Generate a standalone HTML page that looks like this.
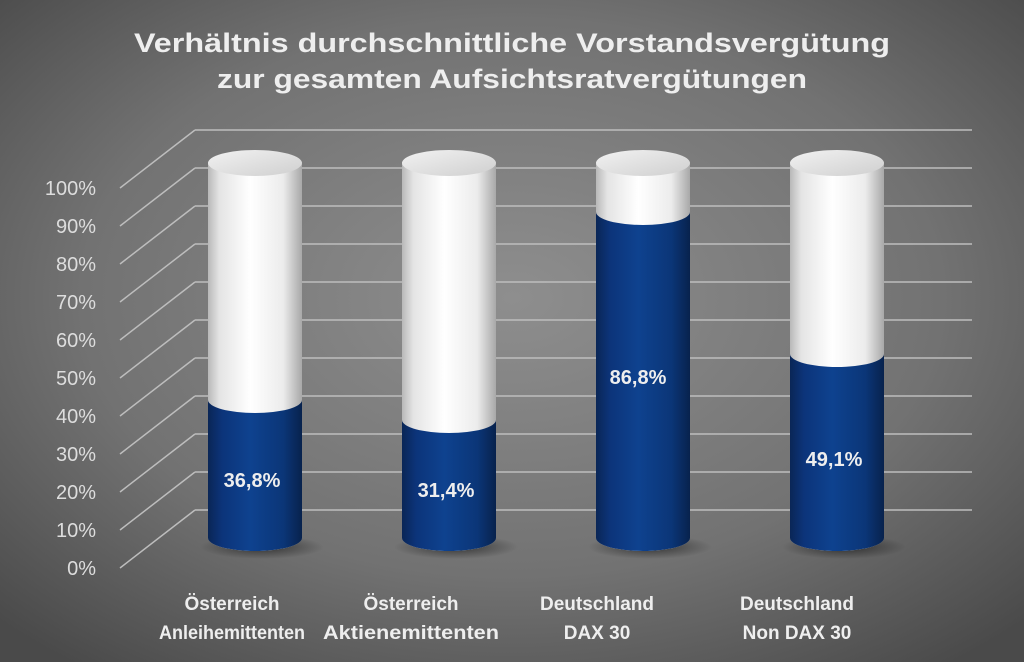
<!DOCTYPE html>
<html><head><meta charset="utf-8"><style>
html,body{margin:0;padding:0;width:1024px;height:662px;overflow:hidden}
svg{display:block}
</style></head><body>
<svg width="1024" height="662" viewBox="0 0 1024 662" xmlns="http://www.w3.org/2000/svg" font-family="'Liberation Sans', sans-serif">
<defs>
<radialGradient id="bg" cx="50%" cy="45%" r="70%">
<stop offset="0" stop-color="#8e8e8e"/><stop offset="0.6" stop-color="#727272"/><stop offset="1" stop-color="#4a4a4a"/>
</radialGradient>
<linearGradient id="wh" x1="0" x2="1" y1="0" y2="0">
<stop offset="0" stop-color="#b8b8b8"/><stop offset="0.12" stop-color="#e4e4e4"/><stop offset="0.45" stop-color="#ffffff"/><stop offset="0.8" stop-color="#ececec"/><stop offset="1" stop-color="#a8a8a8"/>
</linearGradient>
<linearGradient id="bl" x1="0" x2="1" y1="0" y2="0">
<stop offset="0" stop-color="#0a2656"/><stop offset="0.15" stop-color="#0c347a"/><stop offset="0.45" stop-color="#0e428f"/><stop offset="0.8" stop-color="#0b3678"/><stop offset="1" stop-color="#08224d"/>
</linearGradient>
<linearGradient id="tp" x1="0" x2="1" y1="0" y2="1">
<stop offset="0" stop-color="#f2f2f2"/><stop offset="1" stop-color="#cfcfcf"/>
</linearGradient>
<radialGradient id="sh"><stop offset="0" stop-color="#000" stop-opacity="0.55"/><stop offset="1" stop-color="#000" stop-opacity="0"/></radialGradient>
</defs>
<rect width="1024" height="662" fill="url(#bg)"/>
<g fill="#eeeeee" font-weight="bold" font-size="27" text-anchor="middle">
<text x="512" y="52" textLength="756" lengthAdjust="spacingAndGlyphs">Verhältnis durchschnittliche Vorstandsvergütung</text>
<text x="512" y="88" textLength="590" lengthAdjust="spacingAndGlyphs">zur gesamten Aufsichtsratvergütungen</text>
</g>
<g stroke="#bdbdbd" stroke-width="1.5" fill="none">
<path d="M195 130H972M195 130L120 188"/>
<path d="M195 168H972M195 168L120 226"/>
<path d="M195 206H972M195 206L120 264"/>
<path d="M195 244H972M195 244L120 302"/>
<path d="M195 282H972M195 282L120 340"/>
<path d="M195 320H972M195 320L120 378"/>
<path d="M195 358H972M195 358L120 416"/>
<path d="M195 396H972M195 396L120 454"/>
<path d="M195 434H972M195 434L120 492"/>
<path d="M195 472H972M195 472L120 530"/>
<path d="M195 510H972M195 510L120 568"/>
</g>
<g fill="#dddddd" font-size="20" text-anchor="end">
<text x="96" y="195">100%</text><text x="96" y="233">90%</text><text x="96" y="271">80%</text>
<text x="96" y="309">70%</text><text x="96" y="347">60%</text><text x="96" y="385">50%</text>
<text x="96" y="423">40%</text><text x="96" y="461">30%</text><text x="96" y="499">20%</text>
<text x="96" y="537">10%</text><text x="96" y="575">0%</text>
</g>
<!-- bars: cx, boundary -->
<g>
<ellipse cx="262" cy="547" rx="62" ry="12" fill="url(#sh)"/>
<path d="M208 163V538A47 13 0 0 0 302 538V163Z" fill="url(#wh)"/>
<path d="M208 400A47 13 0 0 0 302 400V538A47 13 0 0 1 208 538Z" fill="url(#bl)"/>
<ellipse cx="255" cy="163" rx="47" ry="13" fill="url(#tp)"/>

<ellipse cx="456" cy="547" rx="62" ry="12" fill="url(#sh)"/>
<path d="M402 163V538A47 13 0 0 0 496 538V163Z" fill="url(#wh)"/>
<path d="M402 420A47 13 0 0 0 496 420V538A47 13 0 0 1 402 538Z" fill="url(#bl)"/>
<ellipse cx="449" cy="163" rx="47" ry="13" fill="url(#tp)"/>

<ellipse cx="650" cy="547" rx="62" ry="12" fill="url(#sh)"/>
<path d="M596 163V538A47 13 0 0 0 690 538V163Z" fill="url(#wh)"/>
<path d="M596 212A47 13 0 0 0 690 212V538A47 13 0 0 1 596 538Z" fill="url(#bl)"/>
<ellipse cx="643" cy="163" rx="47" ry="13" fill="url(#tp)"/>

<ellipse cx="844" cy="547" rx="62" ry="12" fill="url(#sh)"/>
<path d="M790 163V538A47 13 0 0 0 884 538V163Z" fill="url(#wh)"/>
<path d="M790 354A47 13 0 0 0 884 354V538A47 13 0 0 1 790 538Z" fill="url(#bl)"/>
<ellipse cx="837" cy="163" rx="47" ry="13" fill="url(#tp)"/>
</g>
<g fill="#eeeeee" font-weight="bold" font-size="20" text-anchor="middle">
<text x="252" y="487">36,8%</text>
<text x="446" y="497">31,4%</text>
<text x="638" y="384">86,8%</text>
<text x="834" y="466">49,1%</text>
</g>
<g fill="#eeeeee" font-weight="bold" font-size="19" text-anchor="middle">
<text x="232" y="610">Österreich</text><text x="232" y="639" textLength="146" lengthAdjust="spacingAndGlyphs">Anleihemittenten</text>
<text x="411" y="610">Österreich</text><text x="411" y="639" textLength="176" lengthAdjust="spacingAndGlyphs">Aktienemittenten</text>
<text x="597" y="610">Deutschland</text><text x="597" y="639">DAX 30</text>
<text x="797" y="610">Deutschland</text><text x="797" y="639">Non DAX 30</text>
</g>
</svg>
</body></html>
